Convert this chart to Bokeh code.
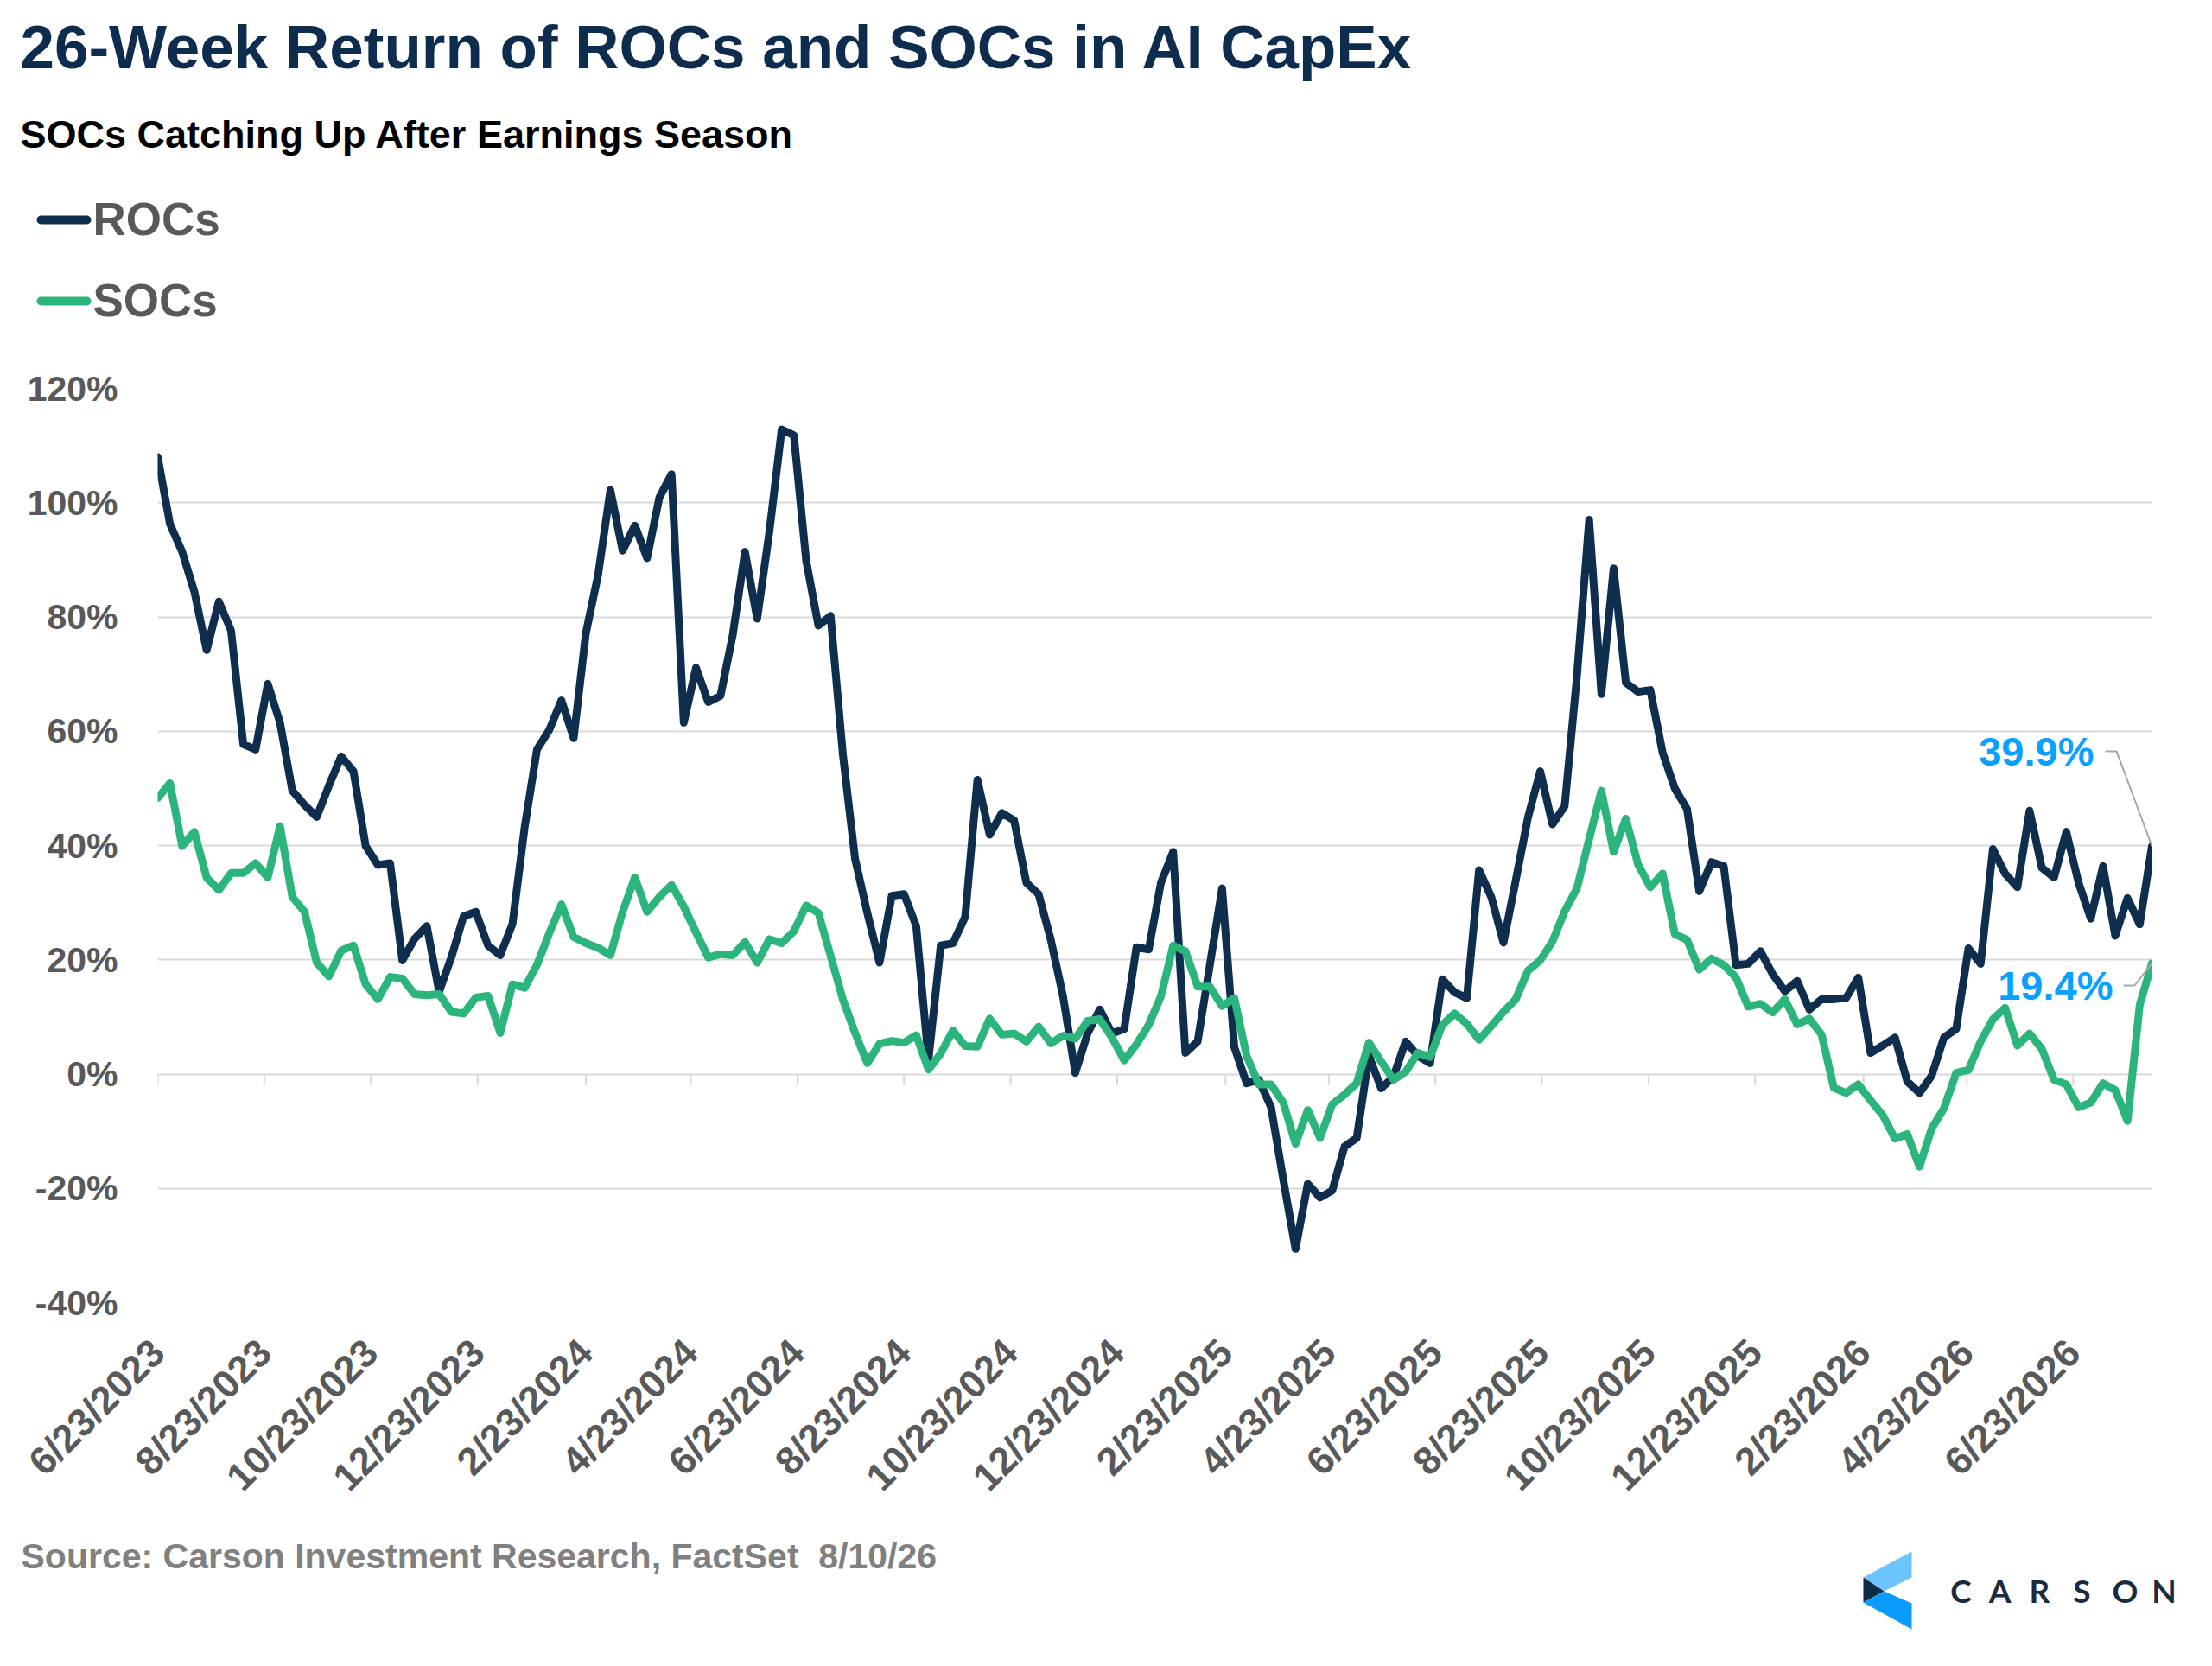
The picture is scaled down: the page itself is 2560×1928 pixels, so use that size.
import pandas as pd
from math import pi
from bokeh.plotting import figure
from bokeh.layouts import column
from bokeh.models import Range1d, FixedTicker, PrintfTickFormatter, Label
from bokeh.embed import file_html
from bokeh.resources import INLINE

# weekly 26-week returns (%), first week 6/23/2023
start_date = "2023-06-23"
rocs = [108.0, 96.3, 91.4, 84.4, 74.2, 82.7, 77.6, 57.7, 56.8, 68.3,
        61.5, 49.6, 47.1, 45.0, 50.5, 55.6, 53.0, 39.9, 36.6, 36.9,
        19.9, 23.7, 25.9, 14.4, 20.4, 27.6, 28.4, 22.5, 20.8, 26.3,
        43.3, 56.8, 60.2, 65.4, 58.8, 77.2, 87.4, 102.2, 91.6, 96.0,
        90.3, 100.9, 105.0, 61.5, 71.1, 65.1, 66.2, 76.8, 91.4, 79.7,
        95.0, 112.8, 111.8, 89.9, 78.5, 80.2, 56.0, 37.7, 28.2, 19.5,
        31.2, 31.5, 25.9, 2.5, 22.5, 22.9, 27.5, 51.5, 41.9, 45.7,
        44.4, 33.5, 31.5, 23.5, 13.6, 0.2, 7.1, 11.3, 7.1, 7.9,
        22.2, 21.8, 33.5, 38.9, 3.7, 5.7, 19.1, 32.5, 4.7, -1.6,
        -1.0, -5.8, -18.5, -30.6, -19.2, -21.6, -20.4, -12.7, -11.2, 3.2,
        -2.5, -0.5, 5.7, 3.2, 1.9, 16.6, 14.3, 13.3, 35.7, 31.0,
        23.0, 33.9, 44.9, 53.0, 43.7, 46.9, 69.6, 97.0, 66.5, 88.5,
        68.5, 66.9, 67.2, 56.3, 50.0, 46.4, 32.0, 37.1, 36.4, 19.1,
        19.3, 21.5, 17.5, 14.5, 16.3, 11.3, 13.1, 13.1, 13.3, 16.9,
        3.7, 5.0, 6.4, -1.3, -3.3, -0.3, 6.4, 7.9, 22.0, 19.3,
        39.4, 35.1, 32.7, 46.1, 36.1, 34.4, 42.4, 33.5, 27.2, 36.4,
        24.2, 30.8, 26.2, 39.9]
socs = [48.3, 50.9, 39.9, 42.4, 34.4, 32.2, 35.2, 35.2, 36.9, 34.4,
        43.4, 31.0, 28.4, 19.5, 17.1, 21.6, 22.5, 15.7, 13.1, 17.0,
        16.7, 14.0, 13.8, 14.0, 10.9, 10.6, 13.4, 13.7, 7.2, 15.7,
        15.1, 19.1, 24.6, 29.7, 24.0, 22.9, 22.1, 20.8, 28.4, 34.4,
        28.4, 31.0, 33.1, 29.3, 24.8, 20.4, 21.0, 20.8, 23.1, 19.5,
        23.6, 22.9, 25.0, 29.5, 28.2, 20.7, 13.1, 7.2, 1.9, 5.3,
        5.8, 5.5, 6.8, 0.8, 3.6, 7.6, 4.9, 4.8, 9.7, 6.9,
        7.1, 5.7, 8.3, 5.4, 6.7, 6.2, 9.3, 9.6, 6.4, 2.4,
        5.2, 8.6, 13.6, 22.5, 21.5, 15.3, 15.3, 11.9, 13.3, 3.2,
        -1.8, -1.8, -5.0, -12.2, -6.3, -11.2, -5.3, -3.6, -1.6, 5.5,
        2.2, -1.0, 0.4, 3.7, 3.0, 8.6, 10.6, 8.8, 6.0, 8.4,
        10.9, 13.1, 18.1, 19.9, 23.2, 28.5, 32.5, 41.1, 49.6, 38.9,
        44.7, 36.7, 32.7, 35.1, 24.5, 23.5, 18.3, 20.2, 19.1, 16.9,
        11.8, 12.3, 10.8, 13.1, 8.7, 9.7, 6.9, -2.4, -3.3, -1.8,
        -4.6, -7.2, -11.3, -10.5, -16.2, -9.5, -6.0, 0.2, 0.7, 5.7,
        9.6, 11.6, 5.0, 7.1, 4.4, -1.0, -1.8, -5.8, -5.0, -1.6,
        -2.8, -8.2, 12.1, 19.4]

tick_labels = ["6/23/2023", "8/23/2023", "10/23/2023", "12/23/2023",
               "2/23/2024", "4/23/2024", "6/23/2024", "8/23/2024",
               "10/23/2024", "12/23/2024", "2/23/2025", "4/23/2025",
               "6/23/2025", "8/23/2025", "10/23/2025", "12/23/2025",
               "2/23/2026", "4/23/2026", "6/23/2026"]
y_ticks = [-40, -20, 0, 20, 40, 60, 80, 100, 120]
series_names = ["ROCs", "SOCs"]

NAVY = "#0F2E4D"
GREEN = "#2BB57C"
GREY = "#595959"
BLUE = "#0AA0FF"
FONT = "Liberation Sans"
W = 2544

t0 = pd.Timestamp(start_date)
dates = pd.date_range(t0, periods=len(rocs), freq="7D")
days = [(d - t0).days for d in dates]
tick_days = [(pd.to_datetime(t, format="%m/%d/%Y") - t0).days for t in tick_labels]


def blank(height, y_top):
    # figure whose frame fills it, data units = page pixels
    f = figure(width=W, height=height, output_backend="svg", toolbar_location=None,
               x_range=Range1d(0, W), y_range=Range1d(y_top + height, y_top),
               x_axis_location=None, y_axis_location=None, min_border=0,
               frame_align=False)
    f.outline_line_color = None
    f.grid.visible = False
    return f


def label(f, text, x, y, size, color, font=FONT, align="left", style="bold"):
    # y is the middle of the capital letters
    f.add_layout(Label(x=x, y=y, text=text, text_font=font, text_font_style=style,
                       text_font_size=size, text_color=color, text_align=align,
                       text_baseline="middle"))


# ---- header: title, subtitle, legend
HEAD_H = 409
head = blank(HEAD_H, 0)
label(head, "26-Week Return of ROCs and SOCs in AI CapEx", 23, 54, "71px", "#0E2D4E")
label(head, "SOCs Catching Up After Earnings Season", 23, 155, "45px", "#000000")
for name, col, yc in zip(series_names, [NAVY, GREEN], [254, 348]):
    head.line([47, 100], [yc, yc], line_color=col, line_width=10, line_cap="round")
    label(head, name, 107, yc - 1, "53px", GREY)

# ---- main chart
BL, BR, BT, BB = 182, 54, 40, 262
MAIN_H = BT + 1058 + BB
frame_w = W - BL - BR
px_day = frame_w / days[-1]
px_pct = 1058 / 160.0

p = figure(width=W, height=MAIN_H, output_backend="svg", toolbar_location=None,
           x_range=Range1d(0, days[-1]), y_range=Range1d(-40, 120),
           min_border_left=BL, min_border_right=BR,
           min_border_top=BT, min_border_bottom=BB, frame_align=False)
p.outline_line_color = None
p.xgrid.visible = False
p.ygrid.grid_line_color = "#D9D9D9"
p.ygrid.grid_line_width = 2

p.yaxis.ticker = FixedTicker(ticks=y_ticks)
p.yaxis.formatter = PrintfTickFormatter(format="%d%%")
p.xaxis.ticker = FixedTicker(ticks=tick_days)
p.xaxis.major_label_overrides = {d: t for d, t in zip(tick_days, tick_labels)}
p.xaxis.major_label_orientation = pi / 4
for ax in (p.xaxis, p.yaxis):
    ax.axis_line_color = None
    ax.major_tick_line_color = None
    ax.minor_tick_line_color = None
    ax.major_tick_out = 0
    ax.major_label_text_font = FONT
    ax.major_label_text_font_style = "bold"
    ax.major_label_text_color = GREY
p.yaxis.major_label_text_font_size = "41px"
p.xaxis.major_label_text_font_size = "45px"
p.yaxis.major_label_standoff = 46
p.xaxis.major_label_standoff = 50

# tick marks on the 0% axis line
p.segment(x0=tick_days, y0=[0] * len(tick_days), x1=tick_days,
          y1=[-13 / px_pct] * len(tick_days), line_color="#D9D9D9", line_width=2)

p.line(days, rocs, line_color=NAVY, line_width=9, line_join="round", line_cap="round")
p.line(days, socs, line_color=GREEN, line_width=9, line_join="round", line_cap="round")

# end-point call-outs
xe = days[-1]
for val, ly, tx, e1, e2 in [(rocs[-1], 56.5, 67, 41, 54), (socs[-1], 15.5, 45, 20, 33)]:
    p.line([xe, xe - e1 / px_day, xe - e2 / px_day], [val, ly, ly],
           line_color="#A6A6A6", line_width=2)
    p.add_layout(Label(x=xe, y=ly, x_offset=-tx, text=f"{val:.1f}%",
                       text_align="right", text_baseline="middle",
                       text_font=FONT, text_font_style="bold",
                       text_font_size="47px", text_color=BLUE))

# ---- footer: source and logo
FOOT_TOP = HEAD_H + MAIN_H
foot = blank(1912 - FOOT_TOP, FOOT_TOP)
label(foot, "Source: Carson Investment Research, FactSet\u00a0 8/10/26", 24, 1800, "41px", "#808080")
foot.patches(xs=[[2156, 2212, 2212, 2180], [2156, 2180, 2156], [2156, 2180, 2212, 2212]],
             ys=[[1825, 1795, 1825, 1841], [1825, 1841, 1854], [1854, 1841, 1855, 1885]],
             fill_color=["#6CC4FF", "#0F2A44", "#0A9BFF"], line_color=None)
for ch, cx in zip("CARSON", [2269, 2314, 2360, 2409, 2459, 2504]):
    label(foot, ch, cx, 1840, "37px", "#1C2B3C", font="Lato", align="center")

layout = column(head, p, foot, spacing=0)
open("out.html", "w").write(file_html(layout, INLINE))
